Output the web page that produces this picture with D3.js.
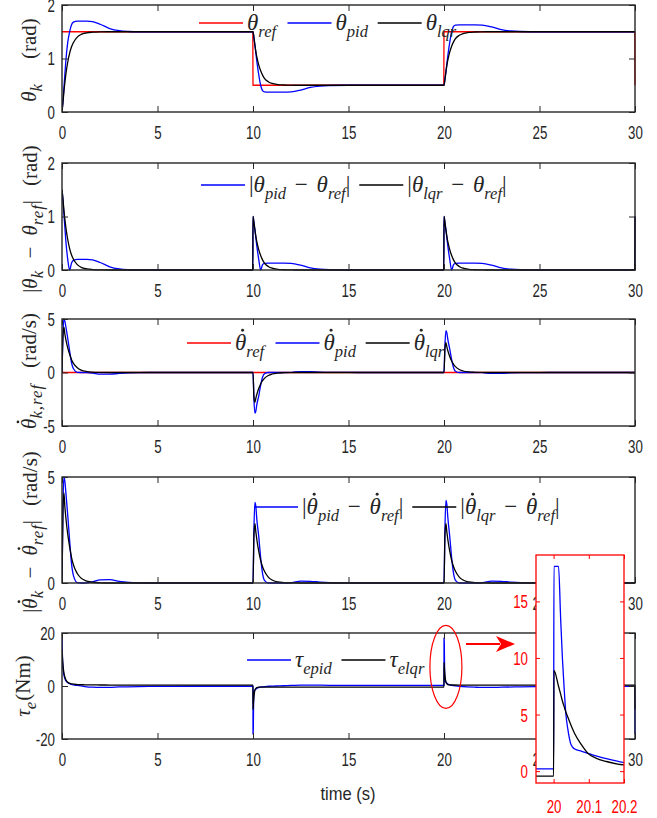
<!DOCTYPE html>
<html><head><meta charset="utf-8">
<script src="https://cdn.jsdelivr.net/npm/d3@7"></script>
<style>body{margin:0;background:#fff}</style>
</head><body>
<svg id="c" width="657" height="818"></svg>
<script>
// ---------------- DATA ----------------
const xTicks = [0, 5, 10, 15, 20, 25, 30];
const yTicksTheta = [0, 1, 2];
const yTicksErr = [0, 1, 2];
const yTicksVel = [-5, 0, 5];
const yTicksVelErr = [0, 5];
const yTicksTau = [-20, 0, 20];
const insetXTicks = [20, 20.1, 20.2];
const insetYTicks = [0, 5, 10, 15];

const time = [0,0.05,0.1,0.15,0.2,0.3,0.4,0.5,0.6,0.8,1,1.3,1.6,2,2.5,3,3.5,4,5,6,8,9.99,
  10,10.05,10.1,10.15,10.2,10.3,10.4,10.5,10.6,10.8,11,11.3,11.6,12,12.5,13,13.5,14,15,16,18,19.99,
  20,20.05,20.1,20.15,20.2,20.3,20.4,20.5,20.6,20.8,21,21.3,21.6,22,22.5,23,23.5,24,25,26,28,29.99,
  30];
const thetaRef = [1.5,1.5,1.5,1.5,1.5,1.5,1.5,1.5,1.5,1.5,1.5,1.5,1.5,1.5,1.5,1.5,1.5,1.5,1.5,1.5,1.5,1.5,
  0.5,0.5,0.5,0.5,0.5,0.5,0.5,0.5,0.5,0.5,0.5,0.5,0.5,0.5,0.5,0.5,0.5,0.5,0.5,0.5,0.5,0.5,
  1.5,1.5,1.5,1.5,1.5,1.5,1.5,1.5,1.5,1.5,1.5,1.5,1.5,1.5,1.5,1.5,1.5,1.5,1.5,1.5,1.5,1.5,
  0.5];
const thetaPid = [0,0.2,0.45,0.7,0.95,1.3,1.5,1.63,1.68,1.7,1.7,1.7,1.69,1.64,1.56,1.52,1.505,1.5,1.5,1.5,1.5,1.5,
  1.5,1.38,1.25,1.1,0.95,0.7,0.5,0.4,0.375,0.37,0.37,0.37,0.37,0.375,0.41,0.46,0.485,0.495,0.5,0.5,0.5,0.5,
  0.5,0.62,0.75,0.9,1.05,1.3,1.5,1.6,1.625,1.63,1.63,1.63,1.63,1.625,1.59,1.54,1.515,1.505,1.5,1.5,1.5,1.5,
  1.5];
const thetaLqr = [0,0.17,0.38,0.55,0.7,0.93,1.1,1.22,1.3,1.4,1.45,1.48,1.492,1.498,1.5,1.5,1.5,1.5,1.5,1.5,1.5,1.5,
  1.5,1.39,1.25,1.13,1.03,0.88,0.77,0.69,0.63,0.567,0.533,0.513,0.505,0.501,0.5,0.5,0.5,0.5,0.5,0.5,0.5,0.5,
  0.5,0.61,0.75,0.87,0.97,1.12,1.23,1.31,1.37,1.433,1.467,1.487,1.495,1.499,1.5,1.5,1.5,1.5,1.5,1.5,1.5,1.5,
  1.5];
const velRefTime = [0, 30];
const velRef = [0, 0];
const velPid = [0,3.6,5.0,4.8,4.3,3.2,2.0,0.9,0.35,0.02,0,-0.01,-0.05,-0.15,-0.16,-0.08,-0.03,-0.01,0,0,0,0,
  0,-2.6,-3.8,-3.6,-3.0,-2.2,-1.2,-0.45,-0.12,0,0,0,0,0.01,0.09,0.08,0.04,0.015,0.003,0,0,0,
  0,2.6,3.9,3.7,3.1,2.2,1.2,0.45,0.12,0,0,0,0,-0.01,-0.09,-0.08,-0.04,-0.015,-0.003,0,0,0,
  0];
const velLqr = [0,3.4,4.25,3.6,3.1,2.3,1.7,1.2,0.85,0.45,0.23,0.09,0.035,0.01,0,0,0,0,0,0,0,0,
  0,-2.3,-2.8,-2.4,-2.05,-1.5,-1.07,-0.77,-0.55,-0.28,-0.14,-0.05,-0.02,-0.005,0,0,0,0,0,0,0,0,
  0,2.3,2.8,2.4,2.05,1.5,1.07,0.77,0.55,0.28,0.14,0.05,0.02,0.005,0,0,0,0,0,0,0,0,
  0];

const tauTime = [0,0.02,0.05,0.1,0.15,0.2,0.3,0.5,0.8,1.2,1.6,2,2.5,3,4,5,7,9.99,
  10,10.001,10.014,10.02,10.025,10.03,10.035,10.04,10.05,10.06,10.08,10.1,10.15,10.2,10.3,10.5,10.8,11.2,11.6,12,12.5,13,14,15,17,19.99,
  20,20.001,20.014,20.02,20.025,20.03,20.035,20.04,20.05,20.06,20.08,20.1,20.12,20.15,20.2,20.3,20.5,20.8,21.2,21.6,22,22.5,23,24,25,27,29.99,
  30];
const tauPid = [18.6,12,7,4.2,2.8,2.0,1.2,0.6,0.2,-0.2,-0.45,-0.55,-0.5,-0.35,-0.2,-0.15,-0.1,-0.1,
  -0.1,-18.1,-18.1,-13.5,-10,-7.3,-5,-3.8,-2.3,-1.95,-1.75,-1.55,-1.2,-0.9,-0.6,-0.3,-0.1,0,0.1,0.2,0.35,0.35,0.25,0.2,0.2,0.2,
  0.2,18.1,18.1,13.5,10,7.3,5,3.8,2.3,1.95,1.75,1.55,1.35,1.1,0.75,0.45,0.1,-0.1,-0.3,-0.45,-0.55,-0.55,-0.45,-0.3,-0.2,-0.15,-0.1,
  -18.1];
const tauLqr = [13.4,11,8,5,3.4,2.4,1.4,0.8,0.55,0.45,0.4,0.38,0.36,0.35,0.35,0.35,0.35,0.35,
  0.35,-8.9,-7.5,-6.8,-6.2,-5.7,-5.2,-4.8,-4.0,-3.3,-2.3,-1.5,-0.9,-0.6,-0.45,-0.4,-0.42,-0.45,-0.45,-0.45,-0.45,-0.45,-0.45,-0.45,-0.45,-0.45,
  -0.45,8.9,7.5,6.8,6.2,5.7,5.2,4.8,4.0,3.3,2.3,1.5,1.15,0.85,0.55,0.45,0.38,0.35,0.35,0.35,0.35,0.35,0.35,0.35,0.35,0.35,0.35,
  -8.9];

// ---------------- DRAW ----------------
const svg = d3.select('#c');
const AX = '#262626';
const X0 = 62, X1 = 635;
const x = d3.scaleLinear().domain([0, 30]).range([X0, X1]);
const TICKFONT = 'Liberation Sans, Arial, sans-serif';
const SERIF = 'Liberation Serif, DejaVu Serif, serif';
const SX = 0.74;
const numFmt = d => String(d);

// segs: [text, kind]; kind: 'i' italic, 'r' roman, 'd' italic with dot above, 's...' subscript, 'g' gap (dx)
function mathText(g, segs, size, px, py, anchor, color, subScale, subSpacing) {
  const ss = subScale || 0.72;
  const t = g.append('text').attr('font-family', SERIF).attr('font-size', size)
    .attr('fill', color || AX).attr('x', px).attr('y', py);
  if (anchor) t.attr('text-anchor', anchor);
  let sub = false, idx = 0, pendingDx = 0;
  const dots = [];
  segs.forEach(([str, kind]) => {
    if (kind === 'g') { pendingDx += +str; return; }
    const isSub = kind[0] === 's';
    const ts = t.append('tspan').text(str)
      .attr('font-style', (kind.endsWith('i') || kind.endsWith('d')) ? 'italic' : 'normal')
      .attr('font-size', isSub ? size * ss : size);
    if (isSub && subSpacing) ts.attr('letter-spacing', subSpacing);
    if (isSub && !sub) ts.attr('dy', size * 0.3);
    if (!isSub && sub) ts.attr('dy', -size * 0.3);
    if (pendingDx) { ts.attr('dx', pendingDx); pendingDx = 0; }
    if (kind === 'd') dots.push(idx);
    sub = isSub;
    idx += str.length;
  });
  dots.forEach(ci => {
    const p = t.node().getStartPositionOfChar(ci);
    g.append('circle').attr('cx', p.x + size * 0.33).attr('cy', p.y - size * 0.86)
      .attr('r', size * 0.065).attr('fill', color || AX);
  });
  return t;
}

function makePanel(i, top, bottom, dom, yTicks) {
  const y = d3.scaleLinear().domain(dom).range([bottom, top]);
  const g = svg.append('g');
  const cid = 'clip' + i;
  svg.append('clipPath').attr('id', cid).append('rect')
    .attr('x', X0).attr('y', top - 1).attr('width', X1 - X0 + 1).attr('height', bottom - top + 2);
  const plot = g.append('g').attr('clip-path', `url(#${cid})`);
  const gb = g.append('g').attr('transform', `translate(0,${bottom})`)
    .call(d3.axisBottom(x).tickValues(xTicks).tickSizeInner(-6).tickSizeOuter(0).tickPadding(14).tickFormat(numFmt));
  const gt = g.append('g').attr('transform', `translate(0,${top})`)
    .call(d3.axisTop(x).tickValues(xTicks).tickSizeInner(-6).tickSizeOuter(0).tickFormat(''));
  const gl = g.append('g').attr('transform', `translate(${X0},0)`)
    .call(d3.axisLeft(y).tickValues(yTicks).tickSizeInner(-6).tickSizeOuter(0).tickPadding(7 / SX).tickFormat(numFmt));
  const gr = g.append('g').attr('transform', `translate(${X1},0)`)
    .call(d3.axisRight(y).tickValues(yTicks).tickSizeInner(-6).tickSizeOuter(0).tickFormat(''));
  [gb, gt, gl, gr].forEach(a => {
    a.select('.domain').remove();
    a.selectAll('line').attr('stroke', AX).attr('stroke-width', 1);
    a.selectAll('text').attr('font-family', TICKFONT).attr('font-size', 18).attr('fill', AX)
      .attr('transform', `scale(${SX},1)`);
  });
  gl.selectAll('text').attr('dy', '0.36em');
  g.append('rect').attr('x', X0).attr('y', top).attr('width', X1 - X0).attr('height', bottom - top)
    .attr('fill', 'none').attr('stroke', AX).attr('stroke-width', 1.4);
  return { g, plot, y };
}

function drawSeries(plot, y, tx, vals, color, curve) {
  const pts = tx.map((t, k) => [t, vals[k]]);
  plot.append('path').datum(pts)
    .attr('d', d3.line().x(d => x(d[0])).y(d => y(d[1])).curve(curve || d3.curveMonotoneX))
    .attr('fill', 'none').attr('stroke', color).attr('stroke-width', 1.3).attr('stroke-linejoin', 'round');
}

function legend(g, x0, yy, items, size) {
  let cx = x0;
  items.forEach(it => {
    g.append('line').attr('x1', cx).attr('x2', cx + 44).attr('y1', yy).attr('y2', yy)
      .attr('stroke', it.color).attr('stroke-width', 1.3);
    const t = mathText(g, it.segs, size, cx + 48, yy + 7);
    cx += 48 + t.node().getBBox().width + 9;
  });
}

function yLabel(bx, cy, segs, size) {
  const g = svg.append('g').attr('transform', `translate(${bx},${cy}) rotate(-90)`);
  mathText(g, segs, size, 0, 0, 'middle', AX, 0.8, 1);
}

const errPid = thetaPid.map((v, k) => Math.abs(v - thetaRef[k]));
const errLqr = thetaLqr.map((v, k) => Math.abs(v - thetaRef[k]));
const velErrPid = velPid.map(v => Math.abs(v));
const velErrLqr = velLqr.map(v => Math.abs(v));

const TH = 'θ';
const LS = 21; // label font size
const MINUS = [['3', 'g'], ['−', 'r'], ['3', 'g'], [' ', 'r']];
const LMINUS = [['6', 'g'], ['−', 'r'], ['6', 'g'], [' ', 'r']];

// Panel 1
const p1 = makePanel(1, 5, 112, [0, 2], yTicksTheta);
drawSeries(p1.plot, p1.y, time, thetaRef, '#ff0000', d3.curveLinear);
drawSeries(p1.plot, p1.y, time, thetaPid, '#0000ff');
drawSeries(p1.plot, p1.y, time, thetaLqr, '#000000');
legend(p1.g, 199, 23, [
  { color: '#ff0000', segs: [[TH, 'i'], ['ref', 'si']] },
  { color: '#0000ff', segs: [[TH, 'i'], ['pid', 'si']] },
  { color: '#000000', segs: [[TH, 'i'], ['lqr', 'si']] }], 23);
yLabel(36, 60, [[TH, 'i'], ['k', 'si'], ['24', 'g'], ['(rad)', 'r']], LS);

// Panel 2
const p2 = makePanel(2, 163, 270, [0, 2], yTicksErr);
drawSeries(p2.plot, p2.y, time, errPid, '#0000ff');
drawSeries(p2.plot, p2.y, time, errLqr, '#000000');
legend(p2.g, 201, 185, [
  { color: '#0000ff', segs: [['|', 'r'], [TH, 'i'], ['pid', 'si'], [' ', 'r'], ...MINUS, [TH, 'i'], ['ref', 'si'], ['|', 'r']] },
  { color: '#000000', segs: [['|', 'r'], [TH, 'i'], ['lqr', 'si'], [' ', 'r'], ...MINUS, [TH, 'i'], ['ref', 'si'], ['|', 'r']] }], 23);
yLabel(37, 219, [['|', 'r'], [TH, 'i'], ['k', 'si'], [' ', 'r'], ...LMINUS, [TH, 'i'], ['ref', 'si'], ['|', 'r'], ['14', 'g'], ['(rad)', 'r']], LS);

// Panel 3
const p3 = makePanel(3, 319, 426, [-5, 5], yTicksVel);
drawSeries(p3.plot, p3.y, velRefTime, velRef, '#ff0000', d3.curveLinear);
drawSeries(p3.plot, p3.y, time, velPid, '#0000ff');
drawSeries(p3.plot, p3.y, time, velLqr, '#000000');
legend(p3.g, 187, 343, [
  { color: '#ff0000', segs: [[TH, 'd'], ['ref', 'si']] },
  { color: '#0000ff', segs: [[TH, 'd'], ['pid', 'si']] },
  { color: '#000000', segs: [[TH, 'd'], ['lqr', 'si']] }], 23);
yLabel(36, 371, [[TH, 'd'], ['k,ref', 'si'], ['16', 'g'], ['(rad/s)', 'r']], LS);

// Panel 4
const p4 = makePanel(4, 477, 583, [0, 5], yTicksVelErr);
drawSeries(p4.plot, p4.y, time, velErrPid, '#0000ff');
drawSeries(p4.plot, p4.y, time, velErrLqr, '#000000');
legend(p4.g, 254, 507, [
  { color: '#0000ff', segs: [['|', 'r'], [TH, 'd'], ['pid', 'si'], [' ', 'r'], ...MINUS, [TH, 'd'], ['ref', 'si'], ['|', 'r']] },
  { color: '#000000', segs: [['|', 'r'], [TH, 'd'], ['lqr', 'si'], [' ', 'r'], ...MINUS, [TH, 'd'], ['ref', 'si'], ['|', 'r']] }], 23);
yLabel(37, 532, [['|', 'r'], [TH, 'd'], ['k', 'si'], [' ', 'r'], ...LMINUS, [TH, 'd'], ['ref', 'si'], ['|', 'r'], ['14', 'g'], ['(rad/s)', 'r']], LS);

// Panel 5
const p5 = makePanel(5, 633, 739, [-20, 20], yTicksTau);
drawSeries(p5.plot, p5.y, tauTime, tauPid, '#0000ff');
drawSeries(p5.plot, p5.y, tauTime, tauLqr, '#000000');
legend(p5.g, 247, 660, [
  { color: '#0000ff', segs: [['τ', 'i'], ['epid', 'si']] },
  { color: '#000000', segs: [['τ', 'i'], ['elqr', 'si']] }], 23);
yLabel(30, 686, [['τ', 'i'], ['e', 'si'], ['(Nm)', 'r']], LS);

svg.append('text').attr('x', 348 / 0.92).attr('y', 800).attr('transform', 'scale(0.92,1)')
  .attr('text-anchor', 'middle').attr('font-family', TICKFONT).attr('font-size', 18).attr('fill', AX)
  .text('time (s)');

// annotation ellipse + arrow
svg.append('ellipse').attr('cx', x(20.1)).attr('cy', p5.y(7.2)).attr('rx', 16).attr('ry', 41.5)
  .attr('fill', 'none').attr('stroke', '#ff0000').attr('stroke-width', 1.2);
svg.append('line').attr('x1', 466).attr('x2', 500).attr('y1', 644).attr('y2', 644)
  .attr('stroke', '#ff0000').attr('stroke-width', 2);
svg.append('path').attr('d', 'M496,636 L515,644 L496,652 L501,644 Z').attr('fill', '#ff0000');

// Inset
const IX0 = 536, IX1 = 624, IY0 = 555, IY1 = 783;
const ix = d3.scaleLinear().domain([19.95, 20.2]).range([IX0, IX1]);
const iy = d3.scaleLinear().domain([-1.05, 19.1]).range([IY1, IY0]);
const ig = svg.append('g');
ig.append('rect').attr('x', IX0).attr('y', IY0).attr('width', IX1 - IX0).attr('height', IY1 - IY0).attr('fill', '#fff');
svg.append('clipPath').attr('id', 'iclip').append('rect')
  .attr('x', IX0).attr('y', IY0).attr('width', IX1 - IX0).attr('height', IY1 - IY0);
const iplot = ig.append('g').attr('clip-path', 'url(#iclip)');
[[tauPid, '#0000ff'], [tauLqr, '#000000']].forEach(([vals, col]) => {
  const pts = tauTime.map((t, k) => [t, vals[k]]);
  iplot.append('path').datum(pts)
    .attr('d', d3.line().x(d => ix(d[0])).y(d => iy(d[1])).curve(d3.curveMonotoneX))
    .attr('fill', 'none').attr('stroke', col).attr('stroke-width', 1.3);
});
const ifmt = d3.format('.1~f');
const iaxes = [
  ig.append('g').attr('transform', `translate(0,${IY1})`).call(d3.axisBottom(ix).tickValues(insetXTicks).tickSizeInner(-4).tickSizeOuter(0).tickPadding(17).tickFormat(ifmt)),
  ig.append('g').attr('transform', `translate(0,${IY0})`).call(d3.axisTop(ix).tickValues(insetXTicks).tickSizeInner(-4).tickSizeOuter(0).tickFormat('')),
  ig.append('g').attr('transform', `translate(${IX0},0)`).call(d3.axisLeft(iy).tickValues(insetYTicks).tickSizeInner(-4).tickSizeOuter(0).tickPadding(8 / SX).tickFormat(numFmt)),
  ig.append('g').attr('transform', `translate(${IX1},0)`).call(d3.axisRight(iy).tickValues(insetYTicks).tickSizeInner(-4).tickSizeOuter(0).tickFormat(''))
];
iaxes.forEach(a => {
  a.select('.domain').remove();
  a.selectAll('line').attr('stroke', '#ff0000');
  a.selectAll('text').attr('font-family', TICKFONT).attr('font-size', 18).attr('fill', '#ff0000')
    .attr('transform', `scale(${SX},1)`);
});
iaxes[2].selectAll('text').attr('dy', '0.36em');
ig.append('rect').attr('x', IX0).attr('y', IY0).attr('width', IX1 - IX0).attr('height', IY1 - IY0)
  .attr('fill', 'none').attr('stroke', '#ff0000').attr('stroke-width', 1.3);
</script>
</body></html>
